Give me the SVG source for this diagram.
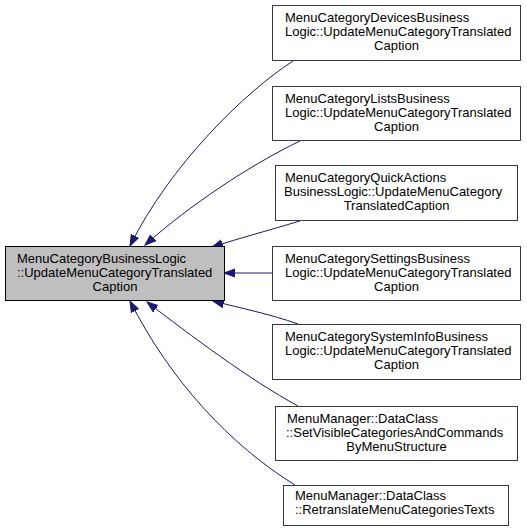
<svg xmlns="http://www.w3.org/2000/svg" width="527" height="531" viewBox="0 0 527 531">
<style>
.box{fill:#ffffff;stroke:#3a3a3a;stroke-width:1}
.main{fill:#bfbfbf;stroke:#000000;stroke-width:1}
text{font-family:"Liberation Sans",Arial,sans-serif;font-size:13px;fill:#000000}
.c{text-anchor:middle}
.edge{fill:none;stroke:#191970;stroke-width:1}
</style>
<defs>
<marker id="arr" markerUnits="userSpaceOnUse" markerWidth="12" markerHeight="10" viewBox="0 -5 12 10" refX="11" refY="0" orient="auto">
<path d="M0,-4 L11,0 L0,4 z" fill="#191970" stroke="#191970"/>
</marker>
</defs>
<rect width="527" height="531" fill="#ffffff"/>
<g id="edges">
<path class="edge" marker-end="url(#arr)" d="M293,61 C245,92 170,165 130,246"/>
<path class="edge" marker-end="url(#arr)" d="M300,141 C250,165 190,205 145,245"/>
<path class="edge" marker-end="url(#arr)" d="M300,221 C270,230 240,238 212,247"/>
<path class="edge" marker-end="url(#arr)" d="M272,273 L224,273"/>
<path class="edge" marker-end="url(#arr)" d="M298,324 C270,314 240,308 213,301"/>
<path class="edge" marker-end="url(#arr)" d="M298,406 C250,380 190,335 147,302"/>
<path class="edge" marker-end="url(#arr)" d="M295,485 C230,445 170,380 130,301"/>
</g>
<g id="node-main">
<rect class="main" x="5.5" y="246.5" width="219" height="54"/>
<text x="17" y="262.5">MenuCategoryBusinessLogic</text>
<text x="17" y="276.5">::UpdateMenuCategoryTranslated</text>
<text class="c" x="115" y="290.5">Caption</text>
</g>
<g id="node1">
<rect class="box" x="272.5" y="5.5" width="248" height="55"/>
<text x="285" y="22">MenuCategoryDevicesBusiness</text>
<text x="285" y="36">Logic::UpdateMenuCategoryTranslated</text>
<text class="c" x="396.5" y="50">Caption</text>
</g>
<g id="node2">
<rect class="box" x="272.5" y="86.5" width="248" height="54"/>
<text x="285" y="103">MenuCategoryListsBusiness</text>
<text x="285" y="117">Logic::UpdateMenuCategoryTranslated</text>
<text class="c" x="396.5" y="131">Caption</text>
</g>
<g id="node3">
<rect class="box" x="275.5" y="165.5" width="242" height="55"/>
<text x="285" y="182">MenuCategoryQuickActions</text>
<text x="284" y="196">BusinessLogic::UpdateMenuCategory</text>
<text class="c" x="396.5" y="210">TranslatedCaption</text>
</g>
<g id="node4">
<rect class="box" x="272.5" y="246.5" width="248" height="54"/>
<text x="285" y="263">MenuCategorySettingsBusiness</text>
<text x="285" y="277">Logic::UpdateMenuCategoryTranslated</text>
<text class="c" x="396.5" y="291">Caption</text>
</g>
<g id="node5">
<rect class="box" x="272.5" y="324.5" width="248" height="55"/>
<text x="285" y="341">MenuCategorySystemInfoBusiness</text>
<text x="285" y="355">Logic::UpdateMenuCategoryTranslated</text>
<text class="c" x="396.5" y="369">Caption</text>
</g>
<g id="node6">
<rect class="box" x="275.5" y="406.5" width="242" height="54"/>
<text x="287" y="423">MenuManager::DataClass</text>
<text x="286" y="437">::SetVisibleCategoriesAndCommands</text>
<text class="c" x="396.5" y="451">ByMenuStructure</text>
</g>
<g id="node7">
<rect class="box" x="283.5" y="485.5" width="225" height="40"/>
<text x="295" y="500">MenuManager::DataClass</text>
<text x="295" y="514">::RetranslateMenuCategoriesTexts</text>
</g>
</svg>
